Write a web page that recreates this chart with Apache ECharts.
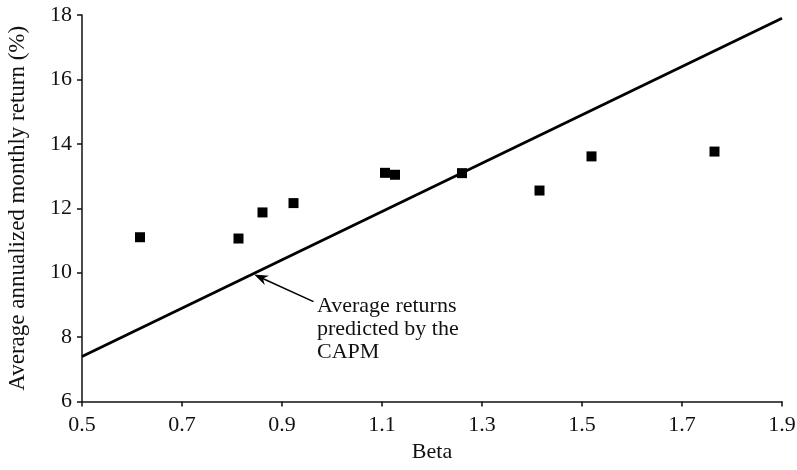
<!DOCTYPE html>
<html>
<head>
<meta charset="utf-8">
<script src="https://cdn.jsdelivr.net/npm/echarts@6/dist/echarts.min.js"></script>
<style>html,body{margin:0;padding:0;background:#fff;}#c{width:797px;height:470px;}</style>
</head>
<body>
<div id="c"></div>
<script>
// Portfolio data (beta, average annualized monthly return %)
const betas = [0.616, 0.813, 0.861, 0.923, 1.106, 1.126, 1.260, 1.415, 1.519, 1.765];
const returns = [11.10, 11.06, 11.87, 12.16, 13.10, 13.04, 13.09, 12.55, 13.61, 13.76];
// CAPM predicted line endpoints
const capmBeta = [0.5, 1.9];
const capmReturn = [7.4, 17.9];
// Axis ticks
const xTicks = [0.5, 0.7, 0.9, 1.1, 1.3, 1.5, 1.7, 1.9];
const yTicks = [6, 8, 10, 12, 14, 16, 18];
// Annotation
const noteLines = ['Average returns', 'predicted by the', 'CAPM'];
const arrowFrom = [0.963, 9.10];
const arrowTo = [0.857, 9.85];
const noteAnchor = [0.97, 9.09];

const FONT = '"Liberation Serif", "DejaVu Serif", serif';
const chart = echarts.init(document.getElementById('c'));
chart.setOption({
  animation: false,
  backgroundColor: '#fff',
  grid: { left: 82, right: 15, top: 15, bottom: 68.5, containLabel: false, outerBoundsMode: 'none' },
  xAxis: {
    type: 'value', min: xTicks[0], max: xTicks[xTicks.length - 1], interval: 0.2,
    name: 'Beta', nameLocation: 'middle', nameGap: 40,
    nameTextStyle: { fontFamily: FONT, fontSize: 22, color: '#111' },
    axisLine: { lineStyle: { color: '#111', width: 1.5 } },
    axisTick: { show: true, length: 5, lineStyle: { color: '#111', width: 1.5 } },
    axisLabel: { fontFamily: FONT, fontSize: 22, color: '#111', margin: 13,
      formatter: v => v.toFixed(1) },
    splitLine: { show: false }
  },
  yAxis: {
    type: 'value', min: yTicks[0], max: yTicks[yTicks.length - 1], interval: 2,
    name: 'Average annualized monthly return (%)', nameLocation: 'middle', nameGap: 53,
    nameTextStyle: { fontFamily: FONT, fontSize: 23, color: '#111' },
    axisLine: { show: true, lineStyle: { color: '#111', width: 1.5 } },
    axisTick: { show: true, length: 5, lineStyle: { color: '#111', width: 1.5 } },
    axisLabel: { fontFamily: FONT, fontSize: 22, color: '#111', margin: 10 },
    splitLine: { show: false }
  },
  series: [
    {
      type: 'line',
      data: capmBeta.map((b, i) => [b, capmReturn[i]]),
      symbol: 'none',
      lineStyle: { color: '#000', width: 2.8 },
      silent: true,
      markLine: {
        silent: true,
        symbol: ['none', 'path://M0,0 L7,16 L0,11 L-7,16 Z'],
        symbolSize: [10, 14],
        lineStyle: { color: '#000', width: 1.5, type: 'solid' },
        label: { show: false },
        data: [[{ coord: arrowFrom }, { coord: arrowTo }]]
      }
    },
    {
      type: 'scatter',
      data: betas.map((b, i) => [b, returns[i]]),
      symbol: 'rect',
      symbolSize: 10,
      itemStyle: { color: '#000', opacity: 1 }
    }
  ]
});
const p = chart.convertToPixel({ gridIndex: 0 }, noteAnchor);
chart.setOption({
  graphic: [{
    type: 'text', left: p[0], top: p[1] - 7,
    style: { text: noteLines.join('\n'), font: '22px ' + FONT, lineHeight: 23, fill: '#111' }
  }]
});
</script>
</body>
</html>
